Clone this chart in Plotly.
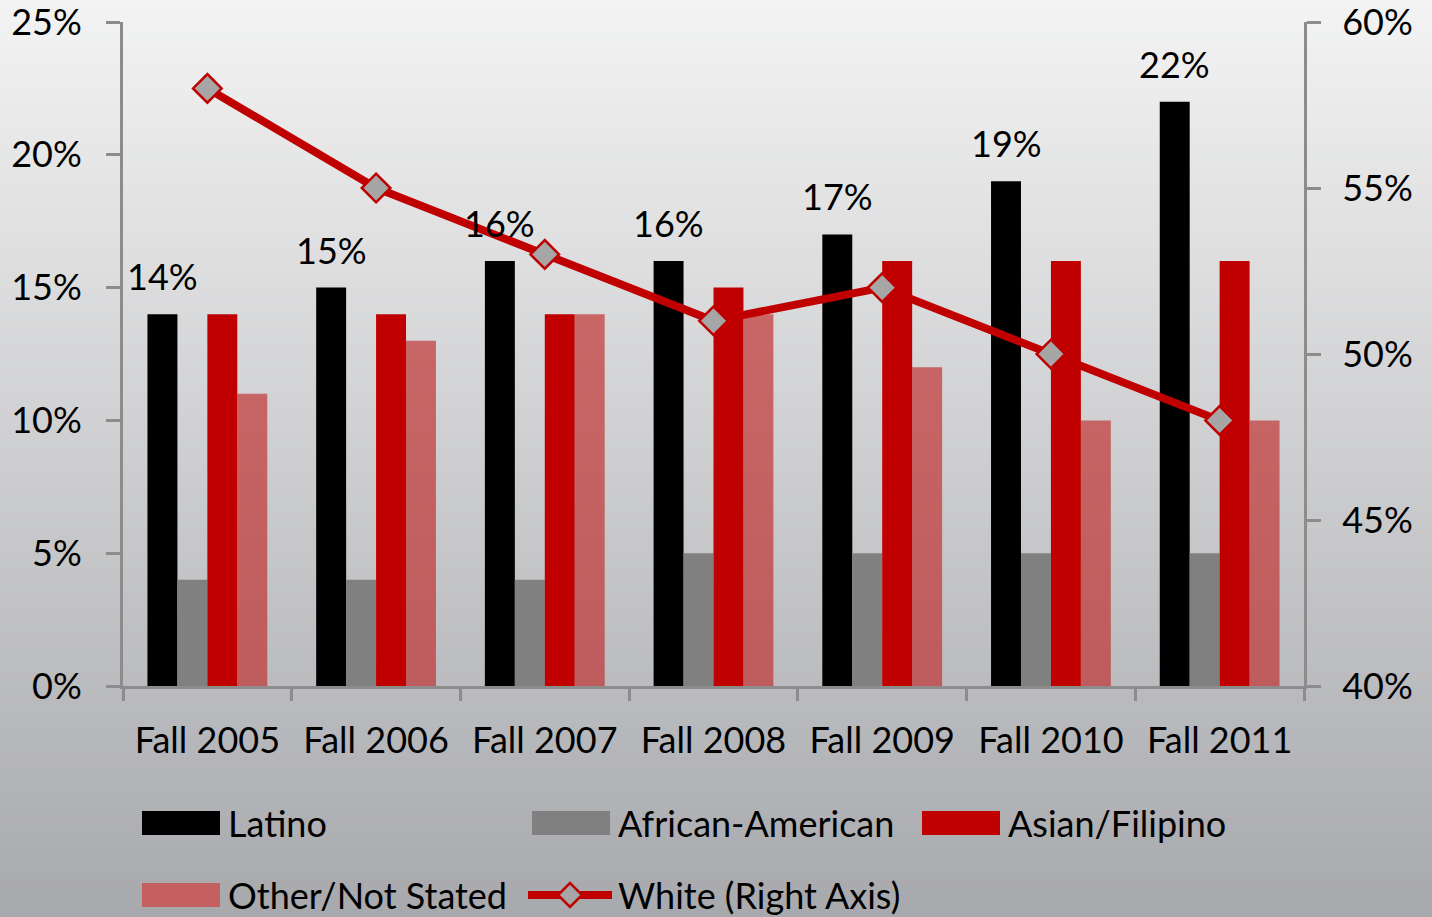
import plotly.graph_objects as go

# Enrollment share by ethnicity, fall terms
terms = ["Fall 2005", "Fall 2006", "Fall 2007", "Fall 2008", "Fall 2009", "Fall 2010", "Fall 2011"]
latino = [0.14, 0.15, 0.16, 0.16, 0.17, 0.19, 0.22]
african_american = [0.04, 0.04, 0.04, 0.05, 0.05, 0.05, 0.05]
asian_filipino = [0.14, 0.14, 0.14, 0.15, 0.16, 0.16, 0.16]
other_not_stated = [0.11, 0.13, 0.14, 0.14, 0.12, 0.10, 0.10]
white = [0.58, 0.55, 0.53, 0.51, 0.52, 0.50, 0.48]

left_ticks = [0, 0.05, 0.10, 0.15, 0.20, 0.25]
right_ticks = [0.40, 0.45, 0.50, 0.55, 0.60]

FONT = "Lato"
FONT_SIZE = 36
AXIS_GREY = "#8c8c8c"
RED = "#c00000"

W, H = 1432, 917
# plot area in pixels
L, R, T, B = 123, 1304, 22, 686
BARGAP = 0.29


def px_x(x):
    return (x - L) / (R - L)


def px_y(y):
    return (B - y) / (B - T)


fig = go.Figure()

bar_series = [
    ("Latino", latino, "#000000"),
    ("African-American", african_american, "#808080"),
    ("Asian/Filipino", asian_filipino, RED),
    ("Other/Not Stated", other_not_stated, "rgba(192,40,40,0.65)"),
]

for name, values, color in bar_series:
    fig.add_trace(go.Bar(
        x=terms,
        y=values,
        name=name,
        marker=dict(color=color, line=dict(width=0)),
        showlegend=False,
    ))

fig.add_trace(go.Scatter(
    x=terms,
    y=white,
    name="White (Right Axis)",
    yaxis="y2",
    mode="lines+markers",
    line=dict(color=RED, width=8),
    marker=dict(symbol="diamond", size=22, color="#a6a6a6",
                line=dict(color=RED, width=2.5)),
    showlegend=False,
    cliponaxis=False,
))

# Value labels above the Latino bars (first bar of each group)
category_px = (R - L) / len(terms)
bar_px = category_px * (1 - BARGAP) / len(bar_series)
latino_offset = -1.5 * bar_px

annotations = []
for term, value in zip(terms, latino):
    annotations.append(dict(
        x=term, y=value, xref="x", yref="y",
        text=f"{value:.0%}", showarrow=False,
        xanchor="center", yanchor="bottom",
        xshift=latino_offset, yshift=14,
        font=dict(family=FONT, size=FONT_SIZE, color="#000000"),
    ))

# Background gradient built from thin horizontal strips
shapes = []
top_c = (243, 243, 243)
bot_c = (168, 169, 173)
n_strips = 120
for i in range(n_strips):
    t = i / (n_strips - 1)
    c = tuple(round(a + (b - a) * t) for a, b in zip(top_c, bot_c))
    y0 = i * H / n_strips
    y1 = (i + 1) * H / n_strips + 1
    shapes.append(dict(
        type="rect", xref="paper", yref="paper", layer="below",
        x0=px_x(0), x1=px_x(W), y0=px_y(y1), y1=px_y(y0),
        fillcolor="rgb(%d,%d,%d)" % c, line=dict(width=0),
    ))

# Hand-drawn legend (wide swatches like the original)
legend_rows = [
    [("Latino", "#000000", 142), ("African-American", "#808080", 532), ("Asian/Filipino", RED, 922)],
    [("Other/Not Stated", "rgb(196,96,96)", 142)],
]
row_y = [823, 895]
for row, yc in zip(legend_rows, row_y):
    for name, color, x0 in row:
        shapes.append(dict(
            type="rect", xref="paper", yref="paper",
            x0=px_x(x0), x1=px_x(x0 + 78), y0=px_y(yc + 12), y1=px_y(yc - 12),
            fillcolor=color, line=dict(width=0),
        ))
        annotations.append(dict(
            xref="paper", yref="paper", x=px_x(x0 + 84), y=px_y(yc),
            text=name, showarrow=False, xanchor="left", yanchor="middle",
            font=dict(family=FONT, size=FONT_SIZE, color="#000000"),
        ))

# White line legend entry
lx0, lx1, ly = 528, 612, 895
shapes.append(dict(
    type="line", xref="paper", yref="paper",
    x0=px_x(lx0), x1=px_x(lx1), y0=px_y(ly), y1=px_y(ly),
    line=dict(color=RED, width=8),
))
cx, d = 570, 12
shapes.append(dict(
    type="path", xref="paper", yref="paper",
    path="M %f,%f L %f,%f L %f,%f L %f,%f Z" % (
        px_x(cx - d), px_y(ly), px_x(cx), px_y(ly - d),
        px_x(cx + d), px_y(ly), px_x(cx), px_y(ly + d)),
    fillcolor="#a6a6a6", line=dict(color=RED, width=2.5),
))
annotations.append(dict(
    xref="paper", yref="paper", x=px_x(616), y=px_y(ly),
    text="White (Right Axis)", showarrow=False, xanchor="left", yanchor="middle",
    font=dict(family=FONT, size=FONT_SIZE, color="#000000"),
))

fig.update_layout(
    width=W,
    height=H,
    margin=dict(l=L, r=W - R, t=T, b=H - B, pad=0),
    barmode="group",
    bargap=BARGAP,
    bargroupgap=0,
    paper_bgcolor="#e0e0e0",
    plot_bgcolor="rgba(0,0,0,0)",
    font=dict(family=FONT, size=FONT_SIZE, color="#000000"),
    shapes=shapes,
    annotations=annotations,
    showlegend=False,
    xaxis=dict(
        type="category", automargin=False,
        showline=True, linecolor=AXIS_GREY, linewidth=3,
        ticks="outside", tickson="boundaries", ticklen=12,
        tickwidth=3, tickcolor=AXIS_GREY,
        showgrid=False, zeroline=False,
        ticklabelstandoff=21,
        tickfont=dict(family=FONT, size=FONT_SIZE),
    ),
    yaxis=dict(
        range=[0, 0.25], tickmode="array", tickvals=left_ticks,
        tickformat=".0%", automargin=False, ticklabeloverflow="allow",
        showline=True, linecolor=AXIS_GREY, linewidth=3,
        ticks="outside", ticklen=14, tickwidth=3, tickcolor=AXIS_GREY,
        showgrid=False, zeroline=False,
        ticklabelstandoff=17,
        tickfont=dict(family=FONT, size=FONT_SIZE),
    ),
    yaxis2=dict(
        range=[0.40, 0.60], tickmode="array", tickvals=right_ticks,
        tickformat=".0%", automargin=False, ticklabeloverflow="allow",
        overlaying="y", side="right",
        showline=True, linecolor=AXIS_GREY, linewidth=3,
        ticks="outside", ticklen=14, tickwidth=3, tickcolor=AXIS_GREY,
        showgrid=False, zeroline=False,
        ticklabelstandoff=14,
        tickfont=dict(family=FONT, size=FONT_SIZE),
    ),
)

fig.write_html(
    "out.html",
    config={"displayModeBar": False},
    post_script="document.body.style.margin='0';document.body.style.overflow='hidden';",
)
